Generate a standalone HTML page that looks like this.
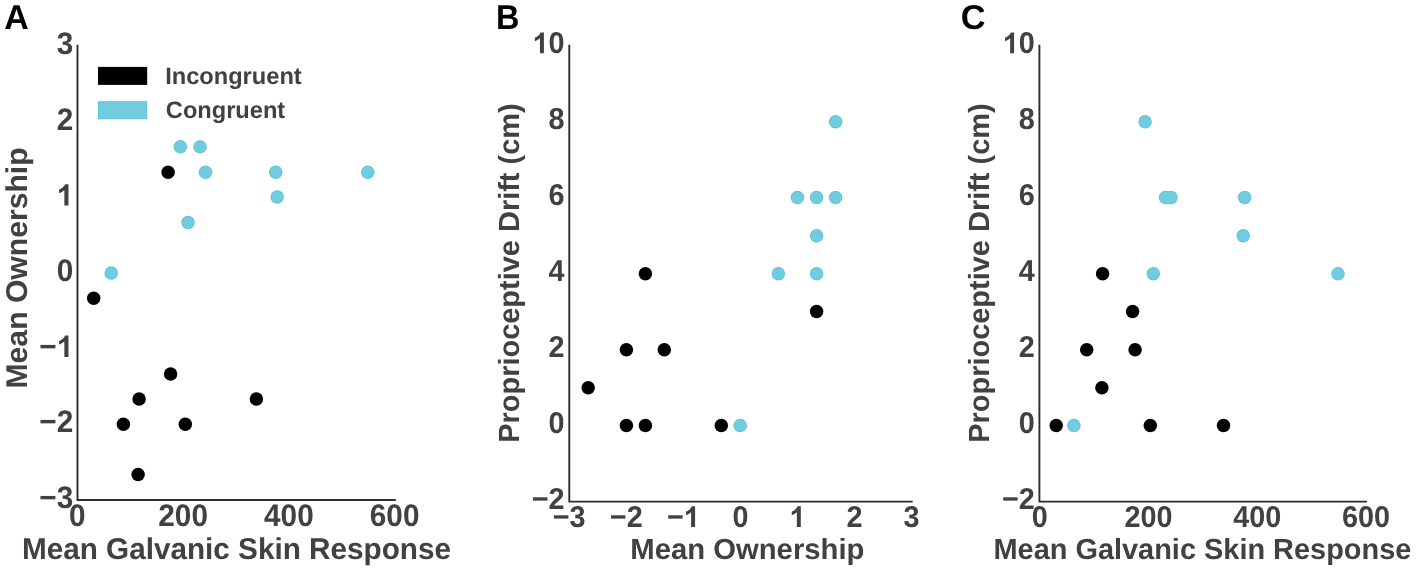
<!DOCTYPE html>
<html lang="en">
<head>
<meta charset="utf-8">
<title>Figure</title>
<style>
html,body{margin:0;padding:0;background:#ffffff;}
body{width:1418px;height:571px;overflow:hidden;font-family:"Liberation Sans",sans-serif;}
svg{display:block;will-change:transform;}
svg text{font-family:"Liberation Sans",sans-serif;font-weight:bold;text-rendering:geometricPrecision;}
</style>
</head>
<body>
<svg width="1418" height="571" viewBox="0 0 1418 571">
<rect x="0" y="0" width="1418" height="571" fill="#ffffff"/>
<g id="panelA">
<path d="M77.5 44.8V499.95H395.7" fill="none" stroke="#2c2c2e" stroke-width="1.9"/>
<text transform="translate(73.3 53.9) scale(0.9550 1)" font-size="31.2" text-anchor="end" fill="#414042">3</text>
<text transform="translate(73.3 129.75) scale(0.9550 1)" font-size="31.2" text-anchor="end" fill="#414042">2</text>
<path transform="translate(56.73 205.6) scale(0.01455 -0.01458)" d="M806 0H525V1059Q371 915 162 846V1101Q272 1137 401 1237.5Q530 1338 578 1472H806Z" fill="#414042"/>
<text transform="translate(73.3 281.45) scale(0.9550 1)" font-size="31.2" text-anchor="end" fill="#414042">0</text>
<text transform="translate(39.33 356.95) scale(0.9550 1)" font-size="31.2" fill="#414042">−</text>
<path transform="translate(56.73 356.95) scale(0.01455 -0.01458)" d="M806 0H525V1059Q371 915 162 846V1101Q272 1137 401 1237.5Q530 1338 578 1472H806Z" fill="#414042"/>
<text transform="translate(73.3 432.45) scale(0.9550 1)" font-size="31.2" text-anchor="end" fill="#414042">−2</text>
<text transform="translate(73.3 507.95) scale(0.9550 1)" font-size="31.2" text-anchor="end" fill="#414042">−3</text>
<text transform="translate(77.4 525.9) scale(0.9550 1)" font-size="31.2" text-anchor="middle" fill="#414042">0</text>
<text transform="translate(183.14 525.9) scale(0.9550 1)" font-size="31.2" text-anchor="middle" fill="#414042">200</text>
<text transform="translate(288.88 525.9) scale(0.9550 1)" font-size="31.2" text-anchor="middle" fill="#414042">400</text>
<text transform="translate(394.62 525.9) scale(0.9550 1)" font-size="31.2" text-anchor="middle" fill="#414042">600</text>
<text transform="translate(21.93 559) scale(0.9898 1)" font-size="30.0" fill="#414042">Mean Galvanic Skin Response</text>
<text transform="translate(26.9 388.5) rotate(-90) scale(1.0046 1)" font-size="30.0" fill="#414042">Mean Ownership</text>
<text transform="translate(4.37 28.7) scale(0.9842 1)" font-size="34.5" fill="#000">A</text>
<rect x="98" y="66.9" width="49.2" height="18" fill="#000000"/>
<rect x="98" y="101.2" width="49.2" height="18" fill="#5fc2d8"/><rect x="98.9" y="102.1" width="47.4" height="16.2" fill="#70ccde"/>
<text transform="translate(165.13 83.9) scale(0.9980 1)" font-size="23.7" fill="#414042">Incongruent</text>
<text transform="translate(165.83 117.7) scale(0.9972 1)" font-size="23.7" fill="#414042">Congruent</text>
<circle cx="168.1" cy="172.2" r="6.75" fill="#000000"/>
<circle cx="93.7" cy="298.2" r="6.75" fill="#000000"/>
<circle cx="170.6" cy="373.9" r="6.75" fill="#000000"/>
<circle cx="139.1" cy="399.0" r="6.75" fill="#000000"/>
<circle cx="256.4" cy="399.0" r="6.75" fill="#000000"/>
<circle cx="123.4" cy="424.2" r="6.75" fill="#000000"/>
<circle cx="185.3" cy="424.2" r="6.75" fill="#000000"/>
<circle cx="138.1" cy="474.5" r="6.75" fill="#000000"/>
<circle cx="180.3" cy="146.7" r="6.75" fill="#5fc2d8"/>
<circle cx="200.0" cy="146.7" r="6.75" fill="#5fc2d8"/>
<circle cx="205.5" cy="172.2" r="6.75" fill="#5fc2d8"/>
<circle cx="275.7" cy="172.2" r="6.75" fill="#5fc2d8"/>
<circle cx="367.8" cy="172.2" r="6.75" fill="#5fc2d8"/>
<circle cx="277.2" cy="197.1" r="6.75" fill="#5fc2d8"/>
<circle cx="188.0" cy="222.6" r="6.75" fill="#5fc2d8"/>
<circle cx="111.2" cy="273.0" r="6.75" fill="#5fc2d8"/>
<circle cx="180.3" cy="146.7" r="5.85" fill="#70ccde"/>
<circle cx="200.0" cy="146.7" r="5.85" fill="#70ccde"/>
<circle cx="205.5" cy="172.2" r="5.85" fill="#70ccde"/>
<circle cx="275.7" cy="172.2" r="5.85" fill="#70ccde"/>
<circle cx="367.8" cy="172.2" r="5.85" fill="#70ccde"/>
<circle cx="277.2" cy="197.1" r="5.85" fill="#70ccde"/>
<circle cx="188.0" cy="222.6" r="5.85" fill="#70ccde"/>
<circle cx="111.2" cy="273.0" r="5.85" fill="#70ccde"/>
</g>
<g id="panelB">
<path d="M569.3 44.8V501.6H912.7" fill="none" stroke="#2c2c2e" stroke-width="1.9"/>
<path transform="translate(532.55 53.25) scale(0.01407 -0.01412)" d="M806 0H525V1059Q371 915 162 846V1101Q272 1137 401 1237.5Q530 1338 578 1472H806Z" fill="#414042"/>
<text transform="translate(548.58 53.25) scale(0.9540 1)" font-size="30.2" fill="#414042">0</text>
<text transform="translate(564.6 129.25) scale(0.9540 1)" font-size="30.2" text-anchor="end" fill="#414042">8</text>
<text transform="translate(564.6 205.25) scale(0.9540 1)" font-size="30.2" text-anchor="end" fill="#414042">6</text>
<text transform="translate(564.6 281.25) scale(0.9540 1)" font-size="30.2" text-anchor="end" fill="#414042">4</text>
<text transform="translate(564.6 357.25) scale(0.9540 1)" font-size="30.2" text-anchor="end" fill="#414042">2</text>
<text transform="translate(564.6 433.25) scale(0.9540 1)" font-size="30.2" text-anchor="end" fill="#414042">0</text>
<text transform="translate(564.6 509.25) scale(0.9540 1)" font-size="30.2" text-anchor="end" fill="#414042">−2</text>
<text transform="translate(569.19 527.1) scale(0.9540 1)" font-size="30.2" text-anchor="middle" fill="#414042">−3</text>
<text transform="translate(626.26 527.1) scale(0.9540 1)" font-size="30.2" text-anchor="middle" fill="#414042">−2</text>
<text transform="translate(666.91 527.1) scale(0.9540 1)" font-size="30.2" fill="#414042">−</text>
<path transform="translate(683.73 527.1) scale(0.01407 -0.01412)" d="M806 0H525V1059Q371 915 162 846V1101Q272 1137 401 1237.5Q530 1338 578 1472H806Z" fill="#414042"/>
<text transform="translate(740.4 527.1) scale(0.9540 1)" font-size="30.2" text-anchor="middle" fill="#414042">0</text>
<path transform="translate(789.46 527.1) scale(0.01407 -0.01412)" d="M806 0H525V1059Q371 915 162 846V1101Q272 1137 401 1237.5Q530 1338 578 1472H806Z" fill="#414042"/>
<text transform="translate(854.54 527.1) scale(0.9540 1)" font-size="30.2" text-anchor="middle" fill="#414042">2</text>
<text transform="translate(911.61 527.1) scale(0.9540 1)" font-size="30.2" text-anchor="middle" fill="#414042">3</text>
<text transform="translate(630.25 559.25) scale(1.0060 1)" font-size="29.1" fill="#414042">Mean Ownership</text>
<text transform="translate(519.3 442.83) rotate(-90) scale(0.9953 1)" font-size="29.1" fill="#414042">Proprioceptive Drift (cm)</text>
<text transform="translate(496.04 28.8) scale(0.9401 1)" font-size="34.5" fill="#000">B</text>
<circle cx="645.4" cy="273.7" r="6.75" fill="#000000"/>
<circle cx="816.6" cy="311.6" r="6.75" fill="#000000"/>
<circle cx="626.4" cy="349.7" r="6.75" fill="#000000"/>
<circle cx="664.3" cy="349.7" r="6.75" fill="#000000"/>
<circle cx="588.2" cy="387.7" r="6.75" fill="#000000"/>
<circle cx="626.4" cy="425.6" r="6.75" fill="#000000"/>
<circle cx="645.4" cy="425.6" r="6.75" fill="#000000"/>
<circle cx="721.3" cy="425.6" r="6.75" fill="#000000"/>
<circle cx="835.6" cy="121.7" r="6.75" fill="#5fc2d8"/>
<circle cx="797.4" cy="197.6" r="6.75" fill="#5fc2d8"/>
<circle cx="816.6" cy="197.6" r="6.75" fill="#5fc2d8"/>
<circle cx="835.6" cy="197.6" r="6.75" fill="#5fc2d8"/>
<circle cx="816.6" cy="235.7" r="6.75" fill="#5fc2d8"/>
<circle cx="778.4" cy="273.7" r="6.75" fill="#5fc2d8"/>
<circle cx="816.6" cy="273.7" r="6.75" fill="#5fc2d8"/>
<circle cx="740.2" cy="425.6" r="6.75" fill="#5fc2d8"/>
<circle cx="835.6" cy="121.7" r="5.85" fill="#70ccde"/>
<circle cx="797.4" cy="197.6" r="5.85" fill="#70ccde"/>
<circle cx="816.6" cy="197.6" r="5.85" fill="#70ccde"/>
<circle cx="835.6" cy="197.6" r="5.85" fill="#70ccde"/>
<circle cx="816.6" cy="235.7" r="5.85" fill="#70ccde"/>
<circle cx="778.4" cy="273.7" r="5.85" fill="#70ccde"/>
<circle cx="816.6" cy="273.7" r="5.85" fill="#70ccde"/>
<circle cx="740.2" cy="425.6" r="5.85" fill="#70ccde"/>
</g>
<g id="panelC">
<path d="M1039.4 44.8V501.6H1366.9" fill="none" stroke="#2c2c2e" stroke-width="1.9"/>
<path transform="translate(1002.75 53.25) scale(0.01407 -0.01412)" d="M806 0H525V1059Q371 915 162 846V1101Q272 1137 401 1237.5Q530 1338 578 1472H806Z" fill="#414042"/>
<text transform="translate(1018.78 53.25) scale(0.9540 1)" font-size="30.2" fill="#414042">0</text>
<text transform="translate(1034.8 129.25) scale(0.9540 1)" font-size="30.2" text-anchor="end" fill="#414042">8</text>
<text transform="translate(1034.8 205.25) scale(0.9540 1)" font-size="30.2" text-anchor="end" fill="#414042">6</text>
<text transform="translate(1034.8 281.25) scale(0.9540 1)" font-size="30.2" text-anchor="end" fill="#414042">4</text>
<text transform="translate(1034.8 357.25) scale(0.9540 1)" font-size="30.2" text-anchor="end" fill="#414042">2</text>
<text transform="translate(1034.8 433.25) scale(0.9540 1)" font-size="30.2" text-anchor="end" fill="#414042">0</text>
<text transform="translate(1034.8 509.25) scale(0.9540 1)" font-size="30.2" text-anchor="end" fill="#414042">−2</text>
<text transform="translate(1039.8 527.1) scale(0.9540 1)" font-size="30.2" text-anchor="middle" fill="#414042">0</text>
<text transform="translate(1148.54 527.1) scale(0.9540 1)" font-size="30.2" text-anchor="middle" fill="#414042">200</text>
<text transform="translate(1257.28 527.1) scale(0.9540 1)" font-size="30.2" text-anchor="middle" fill="#414042">400</text>
<text transform="translate(1366.02 527.1) scale(0.9540 1)" font-size="30.2" text-anchor="middle" fill="#414042">600</text>
<text transform="translate(993.48 559.25) scale(0.9939 1)" font-size="29.1" fill="#414042">Mean Galvanic Skin Response</text>
<text transform="translate(989.3 442.83) rotate(-90) scale(0.9953 1)" font-size="29.1" fill="#414042">Proprioceptive Drift (cm)</text>
<text transform="translate(960.8 29) scale(0.9928 1)" font-size="34.5" fill="#000">C</text>
<circle cx="1102.6" cy="273.7" r="6.75" fill="#000000"/>
<circle cx="1132.6" cy="311.6" r="6.75" fill="#000000"/>
<circle cx="1086.7" cy="349.7" r="6.75" fill="#000000"/>
<circle cx="1135.1" cy="349.7" r="6.75" fill="#000000"/>
<circle cx="1101.9" cy="387.7" r="6.75" fill="#000000"/>
<circle cx="1056.2" cy="425.6" r="6.75" fill="#000000"/>
<circle cx="1150.3" cy="425.6" r="6.75" fill="#000000"/>
<circle cx="1223.5" cy="425.6" r="6.75" fill="#000000"/>
<circle cx="1145.1" cy="121.7" r="6.75" fill="#5fc2d8"/>
<circle cx="1165.5" cy="197.6" r="6.75" fill="#5fc2d8"/>
<circle cx="1171.0" cy="197.6" r="6.75" fill="#5fc2d8"/>
<circle cx="1244.7" cy="197.6" r="6.75" fill="#5fc2d8"/>
<circle cx="1243.2" cy="235.7" r="6.75" fill="#5fc2d8"/>
<circle cx="1153.3" cy="273.7" r="6.75" fill="#5fc2d8"/>
<circle cx="1338.0" cy="273.7" r="6.75" fill="#5fc2d8"/>
<circle cx="1073.9" cy="425.6" r="6.75" fill="#5fc2d8"/>
<circle cx="1145.1" cy="121.7" r="5.85" fill="#70ccde"/>
<circle cx="1165.5" cy="197.6" r="5.85" fill="#70ccde"/>
<circle cx="1171.0" cy="197.6" r="5.85" fill="#70ccde"/>
<circle cx="1244.7" cy="197.6" r="5.85" fill="#70ccde"/>
<circle cx="1243.2" cy="235.7" r="5.85" fill="#70ccde"/>
<circle cx="1153.3" cy="273.7" r="5.85" fill="#70ccde"/>
<circle cx="1338.0" cy="273.7" r="5.85" fill="#70ccde"/>
<circle cx="1073.9" cy="425.6" r="5.85" fill="#70ccde"/>
</g>
</svg>
</body>
</html>
